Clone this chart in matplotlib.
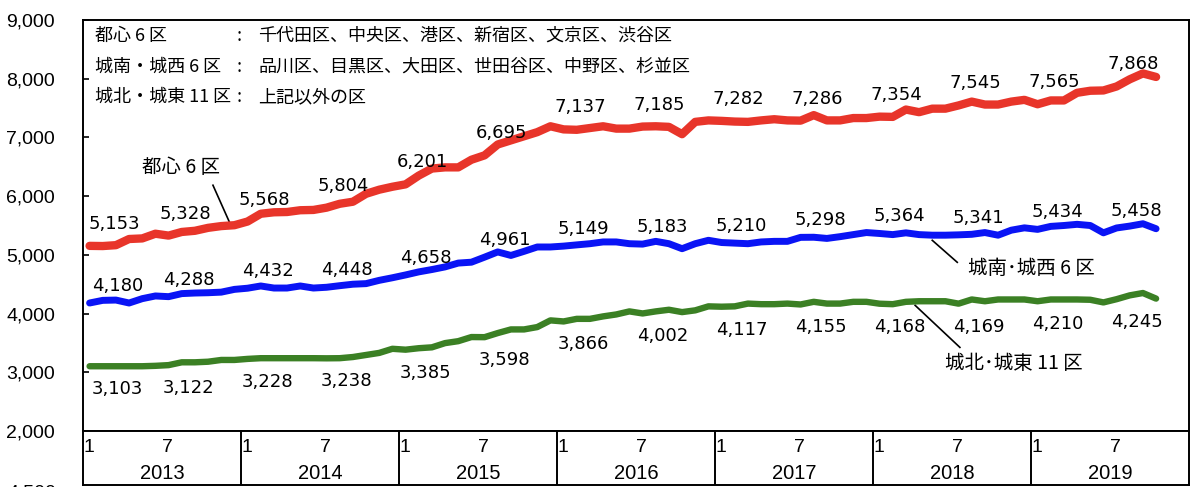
import numpy as np
import matplotlib.pyplot as plt

# monthly values, Jan 2013 .. Oct 2019
toshin = [5153, 5150, 5165, 5270, 5280, 5360, 5328, 5390, 5410, 5460, 5490, 5505,
          5568, 5700, 5725, 5730, 5760, 5765, 5804, 5870, 5905, 6040, 6110, 6160,
          6201, 6350, 6470, 6490, 6490, 6620, 6695, 6880, 6950, 7020, 7090, 7190,
          7137, 7130, 7160, 7190, 7150, 7150, 7185, 7190, 7180, 7055, 7265, 7290,
          7282, 7270, 7265, 7290, 7310, 7290, 7286, 7380, 7290, 7290, 7330, 7330,
          7354, 7350, 7475, 7430, 7490, 7490, 7545, 7610, 7560, 7560, 7610, 7640,
          7565, 7630, 7630, 7760, 7795, 7800, 7868, 7990, 8090, 8030]
jonan = [4180, 4225, 4230, 4180, 4254, 4300, 4288, 4340, 4350, 4355, 4365, 4412,
         4432, 4470, 4435, 4435, 4470, 4435, 4448, 4475, 4500, 4510, 4566, 4610,
         4658, 4710, 4750, 4795, 4860, 4875, 4961, 5050, 4990, 5060, 5134, 5134,
         5149, 5170, 5190, 5220, 5220, 5190, 5183, 5230, 5190, 5105, 5190, 5248,
         5210, 5200, 5190, 5220, 5230, 5230, 5298, 5300, 5280, 5310, 5345, 5380,
         5364, 5345, 5375, 5345, 5335, 5335, 5341, 5350, 5380, 5335, 5420, 5460,
         5434, 5485, 5500, 5520, 5500, 5375, 5458, 5490, 5530, 5445]
johoku = [3103, 3103, 3103, 3103, 3103, 3110, 3122, 3170, 3170, 3180, 3210, 3210,
          3228, 3240, 3240, 3240, 3240, 3240, 3238, 3240, 3260, 3295, 3330, 3400,
          3385, 3410, 3425, 3497, 3530, 3600, 3598, 3668, 3730, 3730, 3770, 3884,
          3866, 3910, 3910, 3952, 3985, 4037, 4002, 4037, 4065, 4025, 4055, 4123,
          4117, 4123, 4170, 4160, 4160, 4170, 4155, 4200, 4170, 4170, 4200, 4200,
          4168, 4160, 4200, 4210, 4210, 4210, 4169, 4240, 4210, 4240, 4240, 4240,
          4210, 4240, 4240, 4240, 4235, 4190, 4245, 4310, 4350, 4255]
years = ["2013", "2014", "2015", "2016", "2017", "2018", "2019"]
legend_left = ["都心 6 区", "城南・城西 6 区", "城北・城東 11 区"]
legend_right = ["千代田区、中央区、港区、新宿区、文京区、渋谷区",
                "品川区、目黒区、大田区、世田谷区、中野区、杉並区",
                "上記以外の区"]

JP = ["Noto Sans CJK JP", "DejaVu Sans"]
NUM = ["Liberation Sans", "DejaVu Sans"]

fig = plt.figure(figsize=(12, 4.87), dpi=100)
ax = fig.add_axes([83/1200, 1-431/487, 1106/1200, 411/487])
tab = fig.add_axes([83/1200, 2/487, 1106/1200, 54/487])

x = np.arange(len(toshin)) + 0.5
series = [
    (toshin, "#E8352A", 6.0, (17, 22)),
    (jonan, "#0A14F5", 5.0, (20, 17)),
    (johoku, "#3B8024", 4.6, (20, -23)),
]
for vals, col, lw, (dx, dy) in series:
    ax.plot(x, vals, color=col, lw=lw, solid_capstyle="round",
            solid_joinstyle="round", zorder=3)
    # labels every January and July
    for i in range(0, len(vals), 6):
        shift = 8 if i == 0 else 0
        ax.annotate(f"{vals[i]:,}", xy=(x[i], vals[i]), xytext=(dx + shift, dy),
                    textcoords="offset pixels", ha="center", va="center",
                    fontsize=13, family="DejaVu Sans", zorder=4)

ax.set_xlim(0, 84)
ax.set_ylim(2000, 9000)
ax.set_yticks(range(2000, 9001, 1000))
ax.set_yticklabels([f"{v:,}" for v in range(2000, 9001, 1000)], family=NUM, fontsize=14)
ax.set_xticks([])
ax.tick_params(axis="y", direction="in", length=4, width=1.2, pad=20)
for s in ax.spines.values():
    s.set_linewidth(1.4)

# series names with leader lines
ax.text(7.44, 6492, "都心 6 区", ha="center", va="center", fontsize=14, family=JP)
ax.plot([9.87, 11.16], [6186, 5538], color="black", lw=1.2)
ax.text(72.0, 4771, "城南･城西 6 区", ha="center", va="center", fontsize=14, family=JP)
ax.plot([64.5, 66.4], [5248, 4873], color="black", lw=1.2)
ax.text(70.7, 3151, "城北･城東 11 区", ha="center", va="center", fontsize=14, family=JP)
ax.plot([63.2, 66.6], [4140, 3424], color="black", lw=1.2)

# area legend at the top
for k in range(3):
    yy = 1 - (36 + 30.5*k)/487
    fig.text(95/1200, yy, legend_left[k], ha="left", va="center", fontsize=13, family=JP)
    fig.text(239/1200, yy, ":", ha="center", va="center", fontsize=13, family=JP)
    fig.text(258/1200, yy, legend_right[k], ha="left", va="center", fontsize=13, family=JP)

# month / year table under the chart
tab.set_xlim(0, 84)
tab.set_ylim(0, 1)
tab.set_xticks([])
tab.set_yticks([])
for s in tab.spines.values():
    s.set_linewidth(1.4)
tab.vlines(range(12, 84, 12), 0, 1, color="black", lw=1.4)
for j, yr in enumerate(years):
    tab.text(12*j + 0.45, 0.70, "1", ha="center", va="center", fontsize=14, family=NUM)
    tab.text(12*j + 6.45, 0.70, "7", ha="center", va="center", fontsize=14, family=NUM)
    tab.text(12*j + 6.0, 0.22, yr, ha="center", va="center", fontsize=14.5, family=NUM)

# cut-off label of the chart below
fig.text(32/1200, -6/487, "4,500", ha="center", va="center", fontsize=14, family=NUM)

fig.savefig("out.png", dpi=100)
